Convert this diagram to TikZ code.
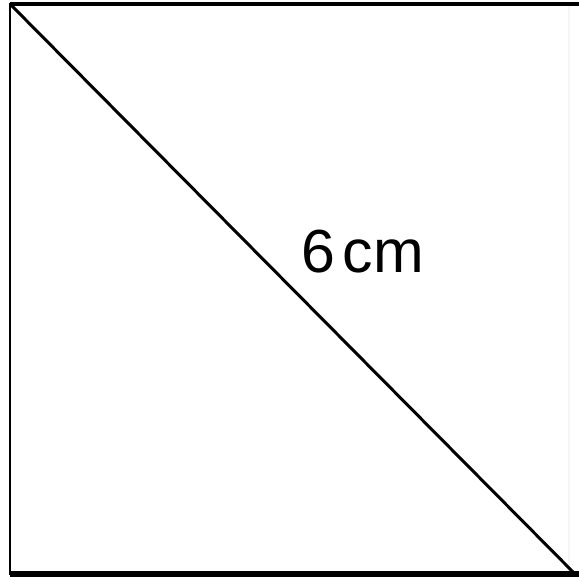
\documentclass[tikz,border=0pt]{standalone}
\usepackage{fontspec}
\setmainfont{Liberation Sans}
\usetikzlibrary{positioning}

\begin{document}
\begin{tikzpicture}[
  x=0.01cm,y=0.01cm,
  edge/.style={draw=black,line width=0.6pt,line cap=rect},
  thickedge/.style={draw=black,line width=1.2pt},
  faintedge/.style={draw=black!4,line width=0.5pt},
  diag/.style={draw=black,line width=0.85pt},
  lengthlabel/.style={font=\fontsize{17.3}{20}\selectfont,inner sep=0pt,anchor=base}
]
\useasboundingbox (0,0) rectangle (579,577);

% corners of the square
\coordinate (tl) at (10,573);
\coordinate (bl) at (10,3);
\coordinate (tr) at (579,573);
\coordinate (br) at (579,3);
\coordinate (dend) at (575,3);
\coordinate (rtop) at (569,573);
\coordinate (rbot) at (569,3);

\draw[edge] (tl) -- (bl);
\draw[faintedge] (rtop) -- (rbot);
\draw[diag] (tl) -- (dend);
\draw[thickedge] (tl) -- (tr);
\draw[thickedge,line width=1.45pt] (bl) -- (br);

\node[lengthlabel] (len) at (363,304) {6\hspace{0.12em}cm};

\end{tikzpicture}
\end{document}
